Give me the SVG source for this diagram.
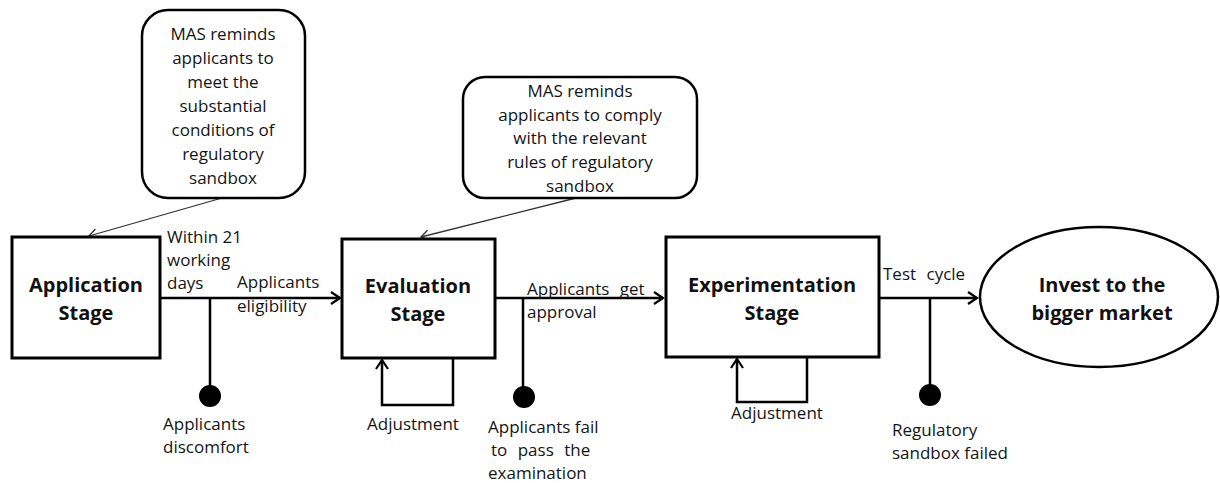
<svg xmlns="http://www.w3.org/2000/svg" width="1220" height="483" viewBox="0 0 1220 483">
<defs>
<style>
.box{fill:#fff;stroke:#000;stroke-width:3}
.call{fill:#fff;stroke:#000;stroke-width:2.5}
.ln{fill:none;stroke:#000;stroke-width:2.5}
.thin{fill:none;stroke:#333;stroke-width:1.3}
.t{font-family:"Open Sans","Liberation Sans",sans-serif;font-size:17px;fill:#141414}
.c{text-anchor:middle}
.w{word-spacing:6px}
.b{font-family:"Open Sans","Liberation Sans",sans-serif;font-size:20px;font-weight:bold;fill:#111;text-anchor:middle}
</style>
<marker id="ah" markerWidth="14" markerHeight="14" refX="11" refY="7" orient="auto" markerUnits="userSpaceOnUse">
<path d="M2,1 L11,7 L2,13" fill="none" stroke="#000" stroke-width="2.2"/>
</marker>
<marker id="ahs" markerWidth="14" markerHeight="14" refX="11" refY="7" orient="auto" markerUnits="userSpaceOnUse">
<path d="M3,2 L11,7 L3,12" fill="none" stroke="#333" stroke-width="1.3"/>
</marker>
</defs>
<rect width="1220" height="483" fill="#fff"/>

<g id="connectors">
<line class="thin" x1="222" y1="198" x2="89" y2="236" marker-end="url(#ahs)"/>
<line class="thin" x1="576" y1="198" x2="421" y2="237" marker-end="url(#ahs)"/>
<line class="ln" x1="160" y1="298" x2="340" y2="298" marker-end="url(#ah)"/>
<line class="ln" x1="495" y1="298" x2="663" y2="298" marker-end="url(#ah)"/>
<line class="ln" x1="879" y1="298" x2="977" y2="298" marker-end="url(#ah)"/>
<line class="ln" x1="210" y1="298" x2="210" y2="390"/>
<circle cx="210" cy="396" r="11" fill="#000"/>
<line class="ln" x1="523" y1="298" x2="523" y2="390"/>
<circle cx="524" cy="397" r="11" fill="#000"/>
<line class="ln" x1="930" y1="298" x2="930" y2="388"/>
<circle cx="930" cy="395" r="11" fill="#000"/>
<polyline class="ln" points="453,358 453,405 382,405 382,360" marker-end="url(#ah)"/>
<polyline class="ln" points="807,357 807,402 737,402 737,359" marker-end="url(#ah)"/>
</g>

<g id="callout1">
<rect class="call" x="142" y="10" width="163" height="188" rx="26"/>
<text class="t c" x="223" y="40">MAS reminds</text>
<text class="t c" x="223" y="64">applicants to</text>
<text class="t c" x="223" y="88">meet the</text>
<text class="t c" x="223" y="112">substantial</text>
<text class="t c" x="223" y="136">conditions of</text>
<text class="t c" x="223" y="160">regulatory</text>
<text class="t c" x="223" y="184">sandbox</text>
</g>

<g id="callout2">
<rect class="call" x="463" y="77" width="234" height="121" rx="22"/>
<text class="t c" x="580" y="97">MAS reminds</text>
<text class="t c" x="580" y="121">applicants to comply</text>
<text class="t c" x="580" y="144">with the relevant</text>
<text class="t c" x="580" y="168">rules of regulatory</text>
<text class="t c" x="580" y="192">sandbox</text>
</g>

<g id="application">
<rect class="box" x="12" y="237" width="148" height="121"/>
<text class="b" x="86" y="292">Application</text>
<text class="b" x="86" y="320">Stage</text>
</g>

<g id="evaluation">
<rect class="box" x="342" y="239" width="153" height="119"/>
<text class="b" x="418" y="293">Evaluation</text>
<text class="b" x="418" y="321">Stage</text>
</g>

<g id="experimentation">
<rect class="box" x="666" y="237" width="213" height="120"/>
<text class="b" x="772" y="292">Experimentation</text>
<text class="b" x="772" y="320">Stage</text>
</g>

<g id="market">
<ellipse cx="1099" cy="297" rx="119" ry="70" fill="#fff" stroke="#000" stroke-width="2.5"/>
<text class="b" x="1102" y="292">Invest to the</text>
<text class="b" x="1102" y="320">bigger market</text>
</g>

<g id="labels">
<text class="t" x="167" y="243">Within 21</text>
<text class="t" x="167" y="266">working</text>
<text class="t" x="167" y="289">days</text>
<text class="t" x="237" y="288">Applicants</text>
<text class="t" x="237" y="312">eligibility</text>
<text class="t" x="163" y="430">Applicants</text>
<text class="t" x="163" y="453">discomfort</text>
<text class="t w" x="527" y="295">Applicants get</text>
<text class="t" x="527" y="318">approval</text>
<text class="t c" x="413" y="430">Adjustment</text>
<text class="t" x="488" y="433">Applicants fail</text>
<text class="t w" x="491" y="456">to pass the</text>
<text class="t" x="488" y="479">examination</text>
<text class="t w" x="883" y="280">Test cycle</text>
<text class="t c" x="777" y="419">Adjustment</text>
<text class="t" x="892" y="436">Regulatory</text>
<text class="t" x="892" y="459">sandbox failed</text>
</g>
</svg>
